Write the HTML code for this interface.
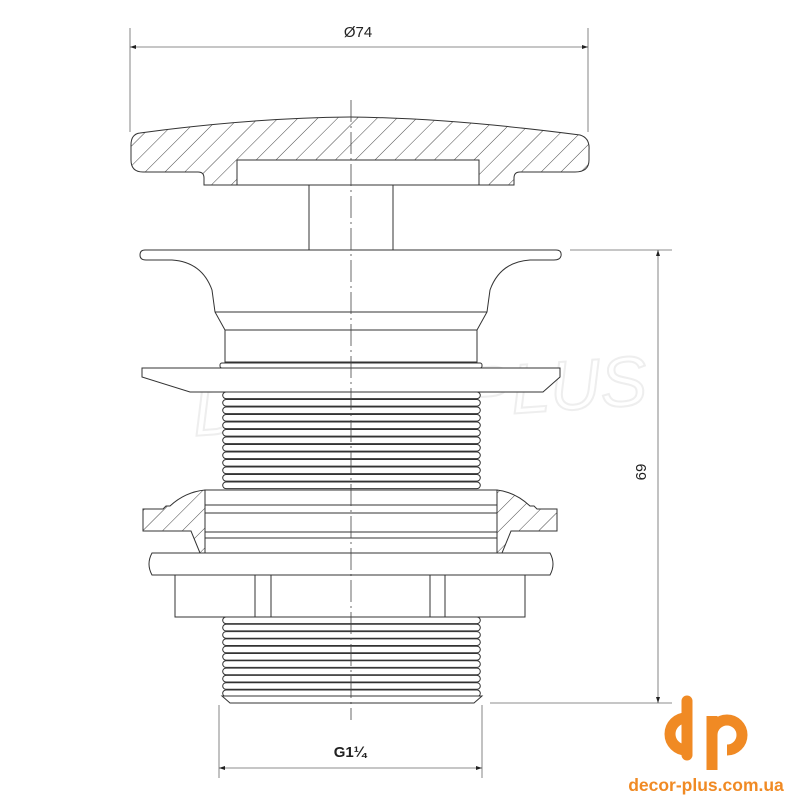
<!DOCTYPE html>
<html><head><meta charset="utf-8"><style>
html,body{margin:0;padding:0;background:#fff}
svg{display:block}
text{font-family:"Liberation Sans",sans-serif}
</style></head><body>
<svg width="800" height="800" viewBox="0 0 800 800" xmlns="http://www.w3.org/2000/svg">
<defs>
<pattern id="h" patternUnits="userSpaceOnUse" width="14" height="14" patternTransform="rotate(45)">
<line x1="0" y1="0" x2="0" y2="14" stroke="#333" stroke-width="0.9"/>
</pattern>
<path id="r" d="M226 0 A3.3 3.3 0 0 0 226 6.6 L477 6.6 A3.3 3.3 0 0 0 477 0 Z" fill="#fff" stroke="#333" stroke-width="1"/>
</defs>
<g fill="none" stroke="#333" stroke-width="1">
<text x="420" y="420" font-size="70" font-style="italic" fill="none" stroke="#eee" stroke-width="2" text-anchor="middle" transform="rotate(-4 420 400)">DECOR PLUS</text>

<path d="M140 133 Q250 118 350 117 Q450 118 580 135 Q590 138 589 150 L589 160 Q589 172 575 172 L520 172 Q514 172 514 178 L514 185 L204 185 L204 178 Q204 172 198 172 L143 172 Q131 172 131 160 L131 145 Q131 134 140 133 Z" fill="url(#h)"/>
<rect x="237" y="160" width="242" height="25" fill="#fff"/>
<rect x="309" y="185" width="84" height="65" fill="#fff"/>

<path d="M145 250 L556 250 Q562 250 561 256 Q560 260 554 260 L530 260 Q500 262 490 290 L487 312 L477 330 L477 362 L225 362 L225 330 L215 312 L212 290 Q202 262 172 260 L146 260 Q140 260 140 255 Q140 250 145 250 Z" fill="#fff"/>
<line x1="215" y1="312" x2="487" y2="312"/>
<line x1="225" y1="330" x2="477" y2="330"/>
<rect x="220" y="363" width="262" height="5" rx="2" fill="#fff"/>
<path d="M142 368 L560 368 L560 377 L543 392 L190 392 L142 377 Z" fill="#fff"/>

<use href="#r" y="392"/><use href="#r" y="399.5"/><use href="#r" y="407"/><use href="#r" y="414.5"/>
<use href="#r" y="422"/><use href="#r" y="429.5"/><use href="#r" y="437"/><use href="#r" y="444.5"/>
<use href="#r" y="452"/><use href="#r" y="459.5"/><use href="#r" y="467"/><use href="#r" y="474.5"/><use href="#r" y="482"/>

<path d="M143 509 L163 509 L166 506 L170 506 Q185 492 205 490 L205 553 L200 553 L191 531 L143 531 Z" fill="url(#h)"/>
<path d="M557 509 L537 509 L534 506 L530 506 Q515 492 497 490 L497 553 L502 553 L511 531 L557 531 Z" fill="url(#h)"/>
<rect x="205" y="490" width="292" height="63" fill="#fff"/>
<line x1="205" y1="505" x2="497" y2="505"/>
<line x1="205" y1="513" x2="497" y2="513"/>
<line x1="205" y1="532" x2="497" y2="532"/>
<line x1="205" y1="538" x2="497" y2="538"/>

<path d="M152 553 L550 553 Q556 564 550 575 L152 575 Q146 564 152 553 Z" fill="#fff"/>
<rect x="175" y="575" width="350" height="42" fill="#fff"/>
<line x1="255" y1="575" x2="255" y2="617"/><line x1="271" y1="575" x2="271" y2="617"/>
<line x1="430" y1="575" x2="430" y2="617"/><line x1="445" y1="575" x2="445" y2="617"/>

<use href="#r" y="617"/><use href="#r" y="624.3"/><use href="#r" y="631.6"/><use href="#r" y="638.9"/>
<use href="#r" y="646.2"/><use href="#r" y="653.5"/><use href="#r" y="660.8"/><use href="#r" y="668.1"/>
<use href="#r" y="675.4"/><use href="#r" y="682.7"/><use href="#r" y="690"/>
<path d="M222 696 L482 696 L474 703 L230 703 Z" fill="#fff"/>

<line x1="351" y1="100" x2="351" y2="720" stroke="#444" stroke-width="0.8" stroke-dasharray="22 4 2 4"/>

<g stroke="#666" stroke-width="0.8">
<line x1="130" y1="28" x2="130" y2="132"/><line x1="588" y1="28" x2="588" y2="132"/>
<line x1="130" y1="47" x2="588" y2="47"/>
<line x1="570" y1="250" x2="672" y2="250"/><line x1="490" y1="703" x2="672" y2="703"/>
<line x1="658" y1="250" x2="658" y2="703"/>
<line x1="219" y1="705" x2="219" y2="778"/><line x1="482" y1="705" x2="482" y2="778"/>
<line x1="219" y1="768" x2="482" y2="768"/>
</g>
<g fill="#222" stroke="none">
<path d="M130 47 l6 -2 v4 z"/><path d="M588 47 l-6 -2 v4 z"/>
<path d="M658 250 l-2 6 h4 z"/><path d="M658 703 l-2 -6 h4 z"/>
<path d="M219 768 l6 -2 v4 z"/><path d="M482 768 l-6 -2 v4 z"/>
</g>
</g>
<text x="358" y="37" font-size="15" fill="#222" text-anchor="middle">Ø74</text>
<text x="651" y="477" font-size="15" fill="#222" text-anchor="middle" transform="rotate(-90 646 477)">69</text>
<text x="350" y="757" font-size="15" font-weight="bold" fill="#222" text-anchor="middle">G1¼</text>

<g fill="none" stroke="#f08a24" stroke-width="11">
<path d="M686 718 A16 16 0 1 0 686 750"/>
<line x1="687" y1="701" x2="687" y2="755" stroke-linecap="round"/>
<line x1="712" y1="716" x2="712" y2="770"/>
<path d="M712 735 A15 15 0 1 1 727 750"/>
</g>
<text x="706" y="791" font-size="17.5" font-weight="bold" fill="#f08a24" text-anchor="middle">decor-plus.com.ua</text>
</svg>
</body></html>
